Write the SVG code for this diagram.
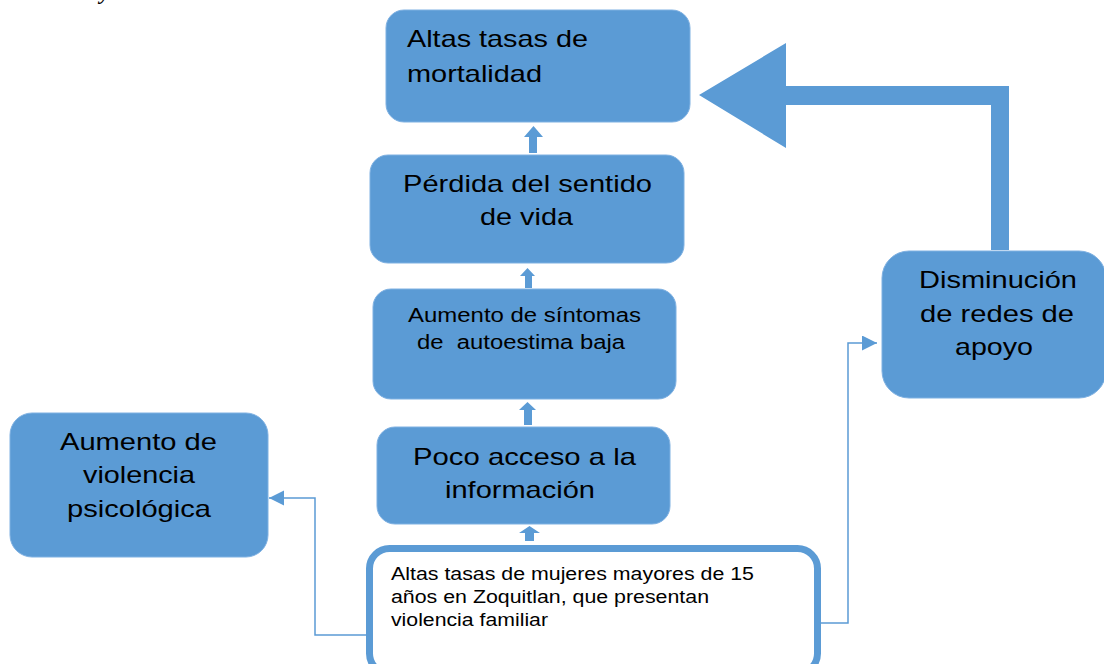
<svg xmlns="http://www.w3.org/2000/svg" width="1104" height="664" viewBox="0 0 1104 664">
<style>
.box{fill:#5B9BD5;stroke:#7FB1E2;stroke-width:1}
.wbox{fill:#FFFFFF;stroke:#5B9BD5;stroke-width:7}
.t{font-family:"Liberation Sans",Arial,sans-serif;font-size:24px;fill:#000}
.t20{font-size:20px}
.t18{font-size:17.5px}
.blk{fill:#5B9BD5}
.conn{fill:none;stroke:#5B9BD5;stroke-width:1.5}
</style>
<defs>
<marker id="ah" markerUnits="userSpaceOnUse" markerWidth="16" markerHeight="16" refX="15" refY="7.5" orient="auto">
<path d="M0,0 L15,7.5 L0,15 z" fill="#5B9BD5"/>
</marker>
</defs>
<rect width="1104" height="664" fill="#FFFFFF"/>
<text x="100" y="-1" font-family="Liberation Serif,serif" font-style="italic" font-weight="bold" font-size="22">y</text>

<g id="connectors">
<polygon class="blk" points="699,95 786,43 786,86 1009,86 1009,250 991,250 991,105 786,105 786,148"/>
<polygon class="blk" points="533.5,126 543,137 537,137 537,153 529,153 529,137 524,137"/>
<polygon class="blk" points="527.5,268 535,276 532,276 532,288 525,288 525,276 520,276"/>
<polygon class="blk" points="527.5,402 536,410 532,410 532,425 524,425 524,410 519,410"/>
<polygon class="blk" points="529.5,526 540,533 534,533 534,541 525,541 525,533 519,533"/>
<polyline class="conn" points="366,635 315,635 315,498 269,498" marker-end="url(#ah)"/>
<polyline class="conn" points="821,623 848,623 848,343 877,343" marker-end="url(#ah)"/>
</g>

<g id="n-mortalidad">
<rect class="box" x="386" y="10" width="304" height="112" rx="18"/>
<text class="t" x="407" y="47" textLength="181" lengthAdjust="spacingAndGlyphs">Altas tasas de</text>
<text class="t" x="407" y="82" textLength="135" lengthAdjust="spacingAndGlyphs">mortalidad</text>
</g>

<g id="n-perdida">
<rect class="box" x="370" y="155" width="314" height="108" rx="18"/>
<text class="t" x="403" y="192" textLength="249" lengthAdjust="spacingAndGlyphs">Pérdida del sentido</text>
<text class="t" x="480" y="225" textLength="93" lengthAdjust="spacingAndGlyphs">de vida</text>
</g>

<g id="n-autoestima">
<rect class="box" x="373" y="289" width="303" height="110" rx="18"/>
<text class="t t20" x="408" y="322" textLength="233" lengthAdjust="spacingAndGlyphs">Aumento de síntomas</text>
<text class="t t20" x="417" y="349" textLength="208" lengthAdjust="spacingAndGlyphs" xml:space="preserve" style="white-space:pre">de  autoestima baja</text>
</g>

<g id="n-informacion">
<rect class="box" x="377" y="427" width="293" height="97" rx="18"/>
<text class="t" x="413" y="465" textLength="223" lengthAdjust="spacingAndGlyphs">Poco acceso a la</text>
<text class="t" x="445" y="498" textLength="150" lengthAdjust="spacingAndGlyphs">información</text>
</g>

<g id="n-violencia">
<rect class="box" x="10" y="413" width="258" height="144" rx="22"/>
<text class="t" x="60" y="450" textLength="157" lengthAdjust="spacingAndGlyphs">Aumento de</text>
<text class="t" x="83" y="483" textLength="112" lengthAdjust="spacingAndGlyphs">violencia</text>
<text class="t" x="67" y="517" textLength="144" lengthAdjust="spacingAndGlyphs">psicológica</text>
</g>

<g id="n-redes">
<rect class="box" x="882" y="251" width="224" height="147" rx="27"/>
<text class="t" x="919" y="288" textLength="158" lengthAdjust="spacingAndGlyphs">Disminución</text>
<text class="t" x="920" y="322" textLength="154" lengthAdjust="spacingAndGlyphs">de redes de</text>
<text class="t" x="955" y="355" textLength="78" lengthAdjust="spacingAndGlyphs">apoyo</text>
</g>

<g id="n-origen">
<rect class="wbox" x="369.5" y="548.5" width="448" height="125" rx="20"/>
<text class="t t18" x="391" y="580" textLength="363" lengthAdjust="spacingAndGlyphs">Altas tasas de mujeres mayores de 15</text>
<text class="t t18" x="391" y="603" textLength="318" lengthAdjust="spacingAndGlyphs">años en Zoquitlan, que presentan</text>
<text class="t t18" x="391" y="626" textLength="157" lengthAdjust="spacingAndGlyphs">violencia familiar</text>
</g>
</svg>
